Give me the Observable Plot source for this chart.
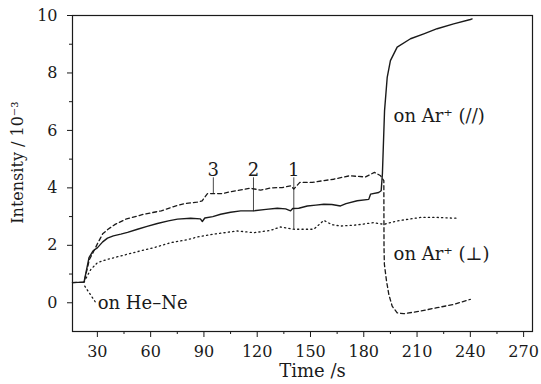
<!DOCTYPE html>
<html><head><meta charset="utf-8">
<script src="https://cdn.jsdelivr.net/npm/d3@7"></script>
<script src="https://cdn.jsdelivr.net/npm/@observablehq/plot@0.6"></script>
<style>body{margin:0;background:#fff}</style>
</head><body><div id="chart"></div>
<script>
// Curve 2 (solid)
const timeSolid = [16, 22.5, 25.3, 27.5, 30.1, 33, 35.7, 39, 43.2, 47, 52.6, 58, 63.8, 70, 75.1, 82.5, 88, 89.1, 90.5, 95, 99.4, 105, 110.7, 118.1, 125, 131.3, 136, 138.8, 140, 143.4, 148.2, 153, 157.5, 162, 166.9, 170, 176.3, 182.8, 183.8, 188.4, 189.8, 190.5, 191.7, 193.2, 195, 198.8, 206.3, 213.8, 221.3, 230.6, 240, 241];
const valSolid  = [0.7, 0.72, 1.57, 1.8, 1.92, 2.12, 2.25, 2.33, 2.39, 2.45, 2.56, 2.66, 2.76, 2.85, 2.91, 2.94, 2.92, 2.83, 2.95, 3.0, 3.08, 3.15, 3.2, 3.2, 3.25, 3.29, 3.27, 3.2, 3.28, 3.29, 3.37, 3.4, 3.43, 3.42, 3.37, 3.45, 3.55, 3.6, 3.78, 3.84, 3.9, 4.5, 6.69, 7.85, 8.43, 8.9, 9.19, 9.36, 9.54, 9.71, 9.86, 9.88];
// Curve 3 (dashed)
const timeDashed = [16, 22.5, 25.5, 28, 30, 33, 36, 40, 46, 56, 66, 73, 79, 86, 89, 92, 100, 108, 113, 116, 122, 128, 134, 139, 140.6, 144, 151, 157, 163, 172, 181, 186, 189.5, 191.3, 191.4, 191.6, 192.8, 194.1, 196, 198.8, 202.5, 211.9, 221.3, 230.6, 240];
const valDashed  = [0.7, 0.72, 1.5, 1.8, 2.05, 2.4, 2.56, 2.73, 2.91, 3.08, 3.2, 3.35, 3.45, 3.5, 3.55, 3.8, 3.8, 3.9, 3.95, 3.99, 3.92, 4.0, 4.01, 4.07, 3.96, 4.19, 4.19, 4.25, 4.3, 4.42, 4.38, 4.54, 4.42, 4.25, 1.92, 1.34, 0.76, 0.29, -0.12, -0.35, -0.38, -0.29, -0.17, -0.06, 0.12];
// Curve 1 (dotted)
const timeDotted = [22.5, 24, 26.3, 30.1, 35.7, 43.2, 52.6, 61.9, 71.3, 81.6, 86.3, 95.6, 108.8, 118.1, 127.5, 133.1, 140.6, 148.2, 151.9, 157.5, 162, 166.9, 176.3, 185.6, 191.3, 198.8, 211.9, 221.3, 233.4];
const valDotted  = [0.72, 0.9, 1.16, 1.4, 1.51, 1.63, 1.78, 1.92, 2.09, 2.21, 2.29, 2.39, 2.5, 2.44, 2.52, 2.64, 2.56, 2.56, 2.56, 2.87, 2.72, 2.67, 2.71, 2.79, 2.73, 2.85, 2.97, 2.97, 2.94];

// He-Ne leader (dotted)
const heneTime = [22.9, 29.7];
const heneVal = [0.58, -0.05];

// curve number labels and leaders
const curveLabels = ["3", "2", "1"];
const curveLabelTime = [95.3, 117.9, 140.6];
const curveLabelVal = [4.6, 4.6, 4.6];
const leaderTop = [4.35, 4.35, 4.35];
const leaderBottom = [3.78, 3.17, 2.56];

// text annotations
const annText = ["on Ar\u207A (//)", "on Ar\u207A (\u22A5)", "on He\u2013Ne"];
const annTime = [196.8, 196.8, 30.2];
const annVal = [6.5, 1.7, 0.0];

const xTicks = [30, 60, 90, 120, 150, 180, 210, 240, 270];
const xMinor = [45, 75, 105, 135, 165, 195, 225, 255];
const yTicks = [0, 2, 4, 6, 8, 10];
const yMinor = [1, 3, 5, 7, 9];

const toRows = (ts, vs) => ts.map((t, i) => ({t, v: vs[i]}));
const solid = toRows(timeSolid, valSolid);
const dashed = toRows(timeDashed, valDashed);
const dotted = toRows(timeDotted, valDotted);
const hene = toRows(heneTime, heneVal);
const leaders = curveLabels.map((s, i) => ({s, t: curveLabelTime[i], v: curveLabelVal[i], top: leaderTop[i], bottom: leaderBottom[i]}));
const anns = annText.map((s, i) => ({s, t: annTime[i], v: annVal[i]}));

const ink = "#1a1a1a";
const chart = Plot.plot({
  width: 541, height: 384,
  marginLeft: 72, marginRight: 9, marginTop: 15, marginBottom: 53,
  style: {fontFamily: "DejaVu Serif", background: "#fff", color: ink},
  x: {domain: [16, 275]},
  y: {domain: [-1, 10]},
  marks: [
    Plot.axisX({ticks: xTicks, tickSize: 6, tickPadding: 8, fontSize: 16, label: null, stroke: ink}),
    Plot.axisX({ticks: xMinor, tickSize: 3, tickFormat: () => "", label: null, stroke: ink}),
    Plot.axisY({ticks: yTicks, tickSize: 5, tickPadding: 10, fontSize: 16, label: null, stroke: ink}),
    Plot.axisY({ticks: yMinor, tickSize: 3, tickFormat: () => "", label: null, stroke: ink}),
    Plot.frame({stroke: ink, strokeWidth: 1.2}),
    Plot.line(dotted, {x: "t", y: "v", stroke: ink, strokeWidth: 1.3, strokeDasharray: "1.2,3.2", strokeLinecap: "round"}),
    Plot.line(hene, {x: "t", y: "v", stroke: ink, strokeWidth: 1.3, strokeDasharray: "1.2,3.2", strokeLinecap: "round"}),
    Plot.line(dashed, {x: "t", y: "v", stroke: ink, strokeWidth: 1.3, strokeDasharray: "4,3"}),
    Plot.line(solid, {x: "t", y: "v", stroke: ink, strokeWidth: 1.4}),
    Plot.ruleX(leaders, {x: "t", y1: "top", y2: "bottom", stroke: ink, strokeWidth: 0.8}),
    Plot.text(leaders, {x: "t", y: "v", text: "s", fontSize: 18, fill: ink}),
    Plot.text(anns, {x: "t", y: "v", text: "s", fontSize: 18, textAnchor: "start", fill: ink}),
    Plot.text(["Time /s"], {frameAnchor: "bottom", textAnchor: "middle", lineAnchor: "middle", dx: 10, dy: 40, fontSize: 18, fill: ink}),
    Plot.text(["Intensity / 10\u207B\u00B3"], {frameAnchor: "left", textAnchor: "middle", lineAnchor: "middle", rotate: -90, dx: -55, dy: -11, fontSize: 16, fill: ink})
  ]
});
document.getElementById("chart").appendChild(chart);
</script>
</body></html>
